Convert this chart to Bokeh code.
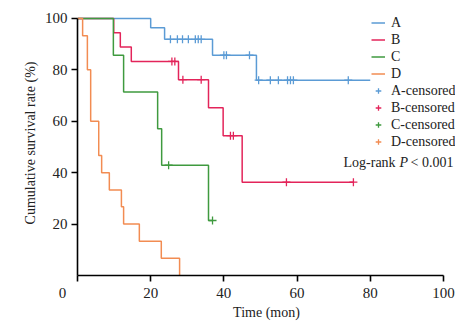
import numpy as np
from bokeh.plotting import figure
from bokeh.models import Legend, LegendItem, Label, Range1d, FixedTicker
from bokeh.embed import file_html
from bokeh.resources import INLINE

# ---- data ----
groups = ["A", "B", "C", "D"]
colors = ["#5b9bd5", "#e3245a", "#3f9a3f", "#f28c52"]

a_time = [0, 20.0, 23.8, 36.9, 48.9, 80.0]
a_surv = [100, 96.4, 91.9, 85.7, 76.0, 76.0]
a_cens = [25.4, 27.3, 28.7, 30.3, 32.2, 33.0, 33.8, 40.0, 40.7, 47.0,
          49.5, 52.7, 54.9, 57.4, 58.2, 59.0, 74.0]

b_time = [0, 9.9, 11.7, 14.7, 27.6, 35.8, 39.8, 45.0, 75.4]
b_surv = [100, 94.4, 88.9, 83.3, 76.2, 65.3, 54.4, 36.3, 36.3]
b_cens = [25.8, 26.6, 28.8, 33.8, 41.8, 42.6, 57.1, 75.4]

c_time = [0, 9.8, 12.6, 21.9, 23.0, 35.8, 36.9]
c_surv = [100, 85.7, 71.4, 57.1, 42.9, 21.4, 21.4]
c_cens = [24.9, 36.9]

d_time = [0, 1.4, 2.7, 3.6, 5.8, 6.6, 8.7, 12.0, 12.6, 16.9, 22.9, 27.9]
d_surv = [100, 93.3, 80.0, 60.0, 46.7, 40.0, 33.3, 26.7, 20.0, 13.3, 6.7, 0.0]
d_cens = []

x_ticks = [0, 20, 40, 60, 80, 100]
y_ticks = [20, 40, 60, 80, 100]

FONT = "Liberation Serif"
TXT = "#222222"

p = figure(width=462, height=322, output_backend="svg", toolbar_location=None,
           x_range=Range1d(0, 103.3), y_range=Range1d(0, 103.1),
           min_border_left=77, min_border_right=7, min_border_top=10,
           min_border_bottom=45)
p.outline_line_color = None
p.grid.visible = False
p.background_fill_color = "white"

def surv_at(times, survs, t):
    if len(t) == 0:
        return [np.nan], [np.nan]   # placeholder so the legend can draw the marker
    idx = np.searchsorted(np.array(times), np.array(t, dtype=float), side="right") - 1
    return list(t), [survs[i] for i in idx]

line_r = []
cens_r = []
for name, col, tt, ss, cc in zip(groups, colors,
                                 [a_time, b_time, c_time, d_time],
                                 [a_surv, b_surv, c_surv, d_surv],
                                 [a_cens, b_cens, c_cens, d_cens]):
    r = p.step(tt, ss, mode="after", line_color=col, line_width=1.5)
    line_r.append(r)
    cx, cy = surv_at(tt, ss, cc)
    s = p.scatter(cx, cy, marker="cross", size=8, line_color=col, line_width=1.3)
    cens_r.append(s)

# axes
for ax in (p.xaxis[0], p.yaxis[0]):
    ax.axis_line_color = "black"
    ax.axis_line_width = 1.6
    ax.major_tick_line_color = "black"
    ax.major_tick_line_width = 1.6
    ax.major_tick_in = 0
    ax.major_tick_out = 6
    ax.minor_tick_line_color = None
    ax.major_label_text_font = FONT
    ax.major_label_text_font_size = "15px"
    ax.major_label_text_color = TXT
    ax.axis_label_text_font = FONT
    ax.axis_label_text_font_size = "14px"
    ax.axis_label_text_font_style = "normal"
    ax.axis_label_text_color = TXT

p.xaxis.ticker = FixedTicker(ticks=x_ticks)
p.xaxis.bounds = (0, 100)
p.xaxis.major_label_overrides = {0: "0" + "\u00a0" * 8}
p.xaxis.major_label_standoff = 3
p.xaxis.axis_label = "Time (mon)"
p.xaxis.axis_label_standoff = 1
p.yaxis.ticker = FixedTicker(ticks=y_ticks)
p.yaxis.bounds = (0, 100)
p.yaxis.major_label_standoff = 4
p.yaxis.axis_label = "Cumulative survival rate (%)"
p.yaxis.axis_label_standoff = 4

# log-rank annotation
lx, ly = 72.7, 44.0
p.add_layout(Label(x=lx, y=ly, text="Log-rank", text_font=FONT, text_font_size="14px",
                   text_color=TXT, text_baseline="middle"))
p.add_layout(Label(x=lx, y=ly, x_offset=56, text="P", text_font=FONT,
                   text_font_size="14px", text_font_style="italic",
                   text_color=TXT, text_baseline="middle"))
p.add_layout(Label(x=lx, y=ly, x_offset=67, text="< 0.001", text_font=FONT,
                   text_font_size="14px", text_color=TXT, text_baseline="middle"))

items = [LegendItem(label=g, renderers=[r]) for g, r in zip(groups, line_r)]
items += [LegendItem(label=g + "-censored", renderers=[r]) for g, r in zip(groups, cens_r)]
legend = Legend(items=items, location=(294, 125), padding=0, margin=0, spacing=0,
                border_line_color=None, background_fill_alpha=0,
                glyph_width=14, glyph_height=17, label_height=17, label_standoff=6,
                label_text_font=FONT, label_text_font_size="14px",
                label_text_color=TXT)
p.add_layout(legend)

open("out.html", "w").write(file_html(p, INLINE))
